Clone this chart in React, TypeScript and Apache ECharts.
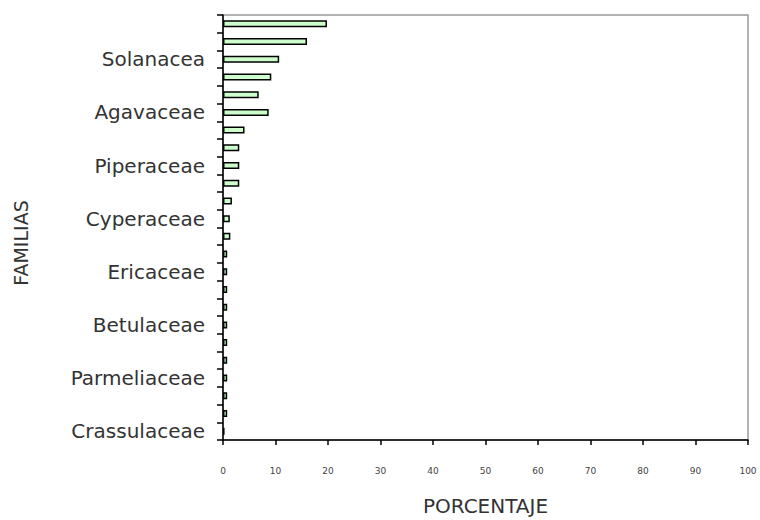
import React, { useEffect, useRef } from "react";
import * as echarts from "echarts";

// Categories bottom -> top (index 0 is the bottom bar)
const families = [
  "Crassulaceae", "Urticaceae", "Fagaceae", "Parmeliaceae", "Pinaceae", "Lauraceae",
  "Betulaceae", "Myrtaceae", "Malvaceae", "Ericaceae", "Rubiaceae", "Verbenaceae",
  "Cyperaceae", "Apiaceae", "Cactaceae", "Piperaceae", "Euphorbiaceae", "Rosaceae",
  "Agavaceae", "Poaceae", "Lamiaceae", "Solanacea", "Fabaceae", "Asteraceae",
];
const percentages = [
  0.3, 0.8, 0.8, 0.8, 0.8, 0.8,
  0.8, 0.8, 0.8, 0.8, 0.8, 1.4,
  1.3, 1.7, 3.1, 3.1, 3.1, 4.1,
  8.7, 6.8, 9.2, 10.7, 16.0, 19.8,
];
const xTicks = { min: 0, max: 100, interval: 10 };
const xTitle = "PORCENTAJE";
const yTitle = "FAMILIAS";

export default function App() {
  const ref = useRef<HTMLDivElement>(null);
  useEffect(() => {
    if (!ref.current) return;
    const chart = echarts.init(ref.current, undefined, { renderer: "svg" });
    chart.setOption({
      animation: false,
      backgroundColor: "#ffffff",
      grid: {
        left: 223,
        right: 12,
        top: 15,
        bottom: 80,
        outerBoundsMode: "none",
        containLabel: false,
        show: true,
        borderColor: "#999999",
        borderWidth: 1.5,
        backgroundColor: "transparent",
      },
      graphic: [
        {
          type: "text",
          x: 21,
          y: 243,
          rotation: Math.PI / 2,
          style: {
            text: yTitle,
            fontFamily: "DejaVu Sans",
            fontSize: 19,
            fill: "#333",
            align: "center",
            verticalAlign: "middle",
          },
        },
      ],
      xAxis: {
        type: "value",
        min: xTicks.min,
        max: xTicks.max,
        interval: xTicks.interval,
        name: xTitle,
        nameLocation: "middle",
        nameGap: 56,
        nameTextStyle: { fontFamily: "DejaVu Sans", fontSize: 20, color: "#333" },
        axisLine: { show: true, lineStyle: { color: "#000", width: 1.5 } },
        axisTick: { show: true, length: 5, inside: false, lineStyle: { color: "#000", width: 1.5 } },
        axisLabel: { margin: 26, fontFamily: "DejaVu Sans", fontSize: 9, color: "#444" },
        splitLine: { show: false },
      },
      yAxis: {
        type: "category",
        data: families,
        axisLine: { show: true, lineStyle: { color: "#000", width: 1.5 } },
        axisTick: { show: true, interval: 0, length: 6, lineStyle: { color: "#000", width: 1.5 } },
        axisLabel: { interval: 2, margin: 18, fontFamily: "DejaVu Sans", fontSize: 20, color: "#333" },
        splitLine: { show: false },
      },
      series: [
        {
          type: "bar",
          data: percentages,
          barWidth: 7,
          itemStyle: { color: "#ccffcc", borderColor: "#000", borderWidth: 1.5 },
        },
      ],
    });
    return () => chart.dispose();
  }, []);
  return (
    <div
      ref={ref}
      style={{ position: "fixed", left: 0, top: 0, width: 760, height: 520 }}
    />
  );
}
